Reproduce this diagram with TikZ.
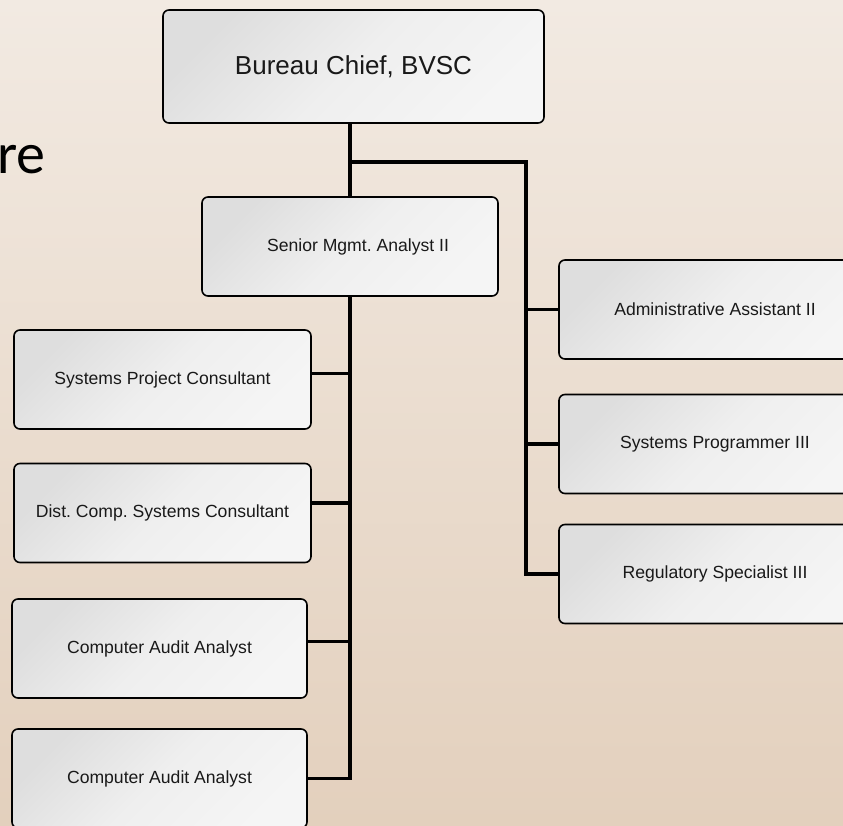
\documentclass[tikz,border=0pt]{standalone}
\usepackage{fontspec}
\setmainfont{Liberation Sans}
\newfontfamily\titlefont{Carlito}
\usetikzlibrary{positioning}
\frenchspacing
\definecolor{bgtop}{HTML}{F2EAE2}
\definecolor{bgbot}{HTML}{E3D0BD}
\definecolor{boxdark}{HTML}{DEDEDE}
\definecolor{boxmid}{HTML}{EFEFEF}
\definecolor{boxlight}{HTML}{F5F5F5}

\begin{document}
\begin{tikzpicture}[x=1pt,y=-1pt,
  post/.style={draw=black, line width=1.6pt, rounded corners=6pt,
    top color=boxdark, bottom color=boxlight, middle color=boxmid, shading angle=45,
    minimum width=296pt, minimum height=99pt, inner sep=0pt,
    font=\fontsize{17.6}{21}\selectfont, text=black!90},
  link/.style={black, line width=3.8pt}]
\useasboundingbox (0,0) rectangle (843,825);
\shade [top color=bgtop, bottom color=bgbot] (0,0) rectangle (843,825);
\node [anchor=base east, inner sep=0pt, font=\titlefont\fontsize{58}{64}\selectfont] (title) at (46,173) {re};
\node [post, minimum width=381pt, minimum height=113pt, font=\fontsize{26}{30}\selectfont] (chief) at (353.5,66.5) {Bureau Chief, BVSC};
\node [post] (senior) at (350,246.5) {\hspace*{16pt}Senior Mgmt. Analyst II};
\node [post, minimum width=312pt] (admin) at (715,309.5) {Administrative Assistant II};
\node [post, minimum width=312pt] (sysprog) at (715,444) {Systems Programmer III};
\node [post, minimum width=312pt] (regspec) at (715,574) {Regulatory Specialist III};
\node [post, minimum width=297pt] (sysproj) at (162.5,379.5) {Systems Project Consultant};
\node [post, minimum width=297pt] (distcomp) at (162.5,513) {Dist. Comp. Systems Consultant};
\node [post, minimum width=295pt] (audit1) at (159.5,648.5) {Computer Audit Analyst};
\node [post, minimum width=295pt] (audit2) at (159.5,778.5) {Computer Audit Analyst};
\coordinate (rtop) at (526,162);
\draw [link] (senior.north |- chief.south) -- (senior.north);
\draw [link] (senior.north |- rtop) -- (rtop) -- (rtop |- regspec.west) -- (regspec.west);
\foreach \n in {admin,sysprog}
  \draw [link] (\n.west) -- (\n.west -| rtop);
\draw [link] (senior.south) -- (senior.south |- audit2.east) -- (audit2.east);
\foreach \n/\s in {sysproj/6pt,distcomp/10pt,audit1/7pt}
  \draw [link] ([yshift=\s]\n.east) -- ([yshift=\s]\n.east -| senior.south);
\end{tikzpicture}
\end{document}
